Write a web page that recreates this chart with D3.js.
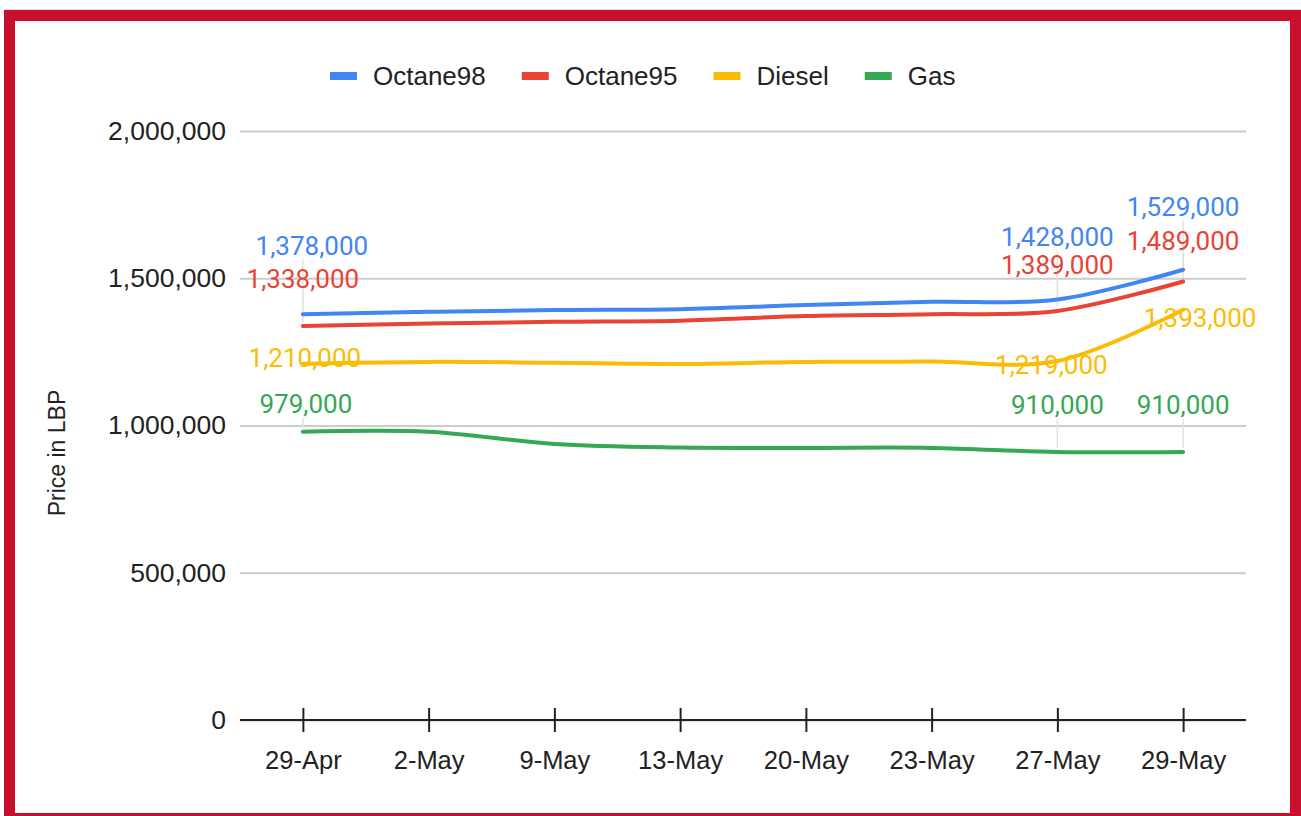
<!DOCTYPE html>
<html>
<head>
<meta charset="utf-8">
<script src="https://cdn.jsdelivr.net/npm/d3@7"></script>
<style>
  body { margin: 0; background: #fff; }
  svg { display: block; }
</style>
</head>
<body>
<div id="container"></div>
<script>
/* DATA */
const dates = ["29-Apr", "2-May", "9-May", "13-May", "20-May", "23-May", "27-May", "29-May"];
const seriesNames = ["Octane98", "Octane95", "Diesel", "Gas"];
const octane98 = [1378000, 1386000, 1392000, 1395000, 1409000, 1420000, 1428000, 1529000];
const octane95 = [1338000, 1346000, 1352000, 1356000, 1372000, 1378000, 1389000, 1489000];
const diesel = [1210000, 1216000, 1213000, 1209000, 1216000, 1217000, 1219000, 1393000];
const gas = [979000, 979000, 937000, 925000, 924000, 924000, 910000, 910000];
const yTicks = [0, 500000, 1000000, 1500000, 2000000];
const labelledPoints = [0, 6, 7];

/* CONSTANTS */
const width = 1301, height = 816;
const colors = ["#4285f4", "#ea4335", "#fbbc04", "#34a853"];
const frameRed = "#c8102e";

// label nudges [dx, dy] per series, per labelled point (chart tool avoided overlaps)
const labelNudge = [
  [[9, -69], [0, -63], [0, -63]],
  [[0, -47], [0, -46], [0, -41]],
  [[2, -6], [-6, 4], [17, 8]],
  [[3, -28], [0, -47], [0, -47]]
];

const series = [octane98, octane95, diesel, gas].map((vals, i) => ({
  name: seriesNames[i],
  color: colors[i],
  values: vals.map((v, j) => ({ date: dates[j], value: v }))
}));

const svg = d3.select("#container")
  .append("svg")
  .attr("width", width)
  .attr("height", height);

// frame
svg.append("rect").attr("width", width).attr("height", height).attr("fill", "#fff");
svg.append("line")
  .attr("x1", 4).attr("x2", width).attr("y1", 9.5).attr("y2", 9.5)
  .attr("stroke", "#ddd");
svg.append("rect")
  .attr("x", 4).attr("y", 10).attr("width", width - 4).attr("height", height - 10)
  .attr("fill", frameRed);
svg.append("rect")
  .attr("x", 15).attr("y", 21).attr("width", 1275).attr("height", 792)
  .attr("fill", "#fff");

// SCALES
const x = d3.scalePoint()
  .domain(dates)
  .range([240, 1246])
  .padding(0.5);

const y = d3.scaleLinear()
  .domain([0, 2000000])
  .range([720, 131]);

// gridlines + y labels
const yAxis = svg.append("g")
  .attr("transform", "translate(240,0)")
  .call(d3.axisLeft(y).tickValues(yTicks).tickSize(-1006).tickPadding(14).tickFormat(d3.format(",")));
yAxis.select(".domain").remove();
yAxis.selectAll(".tick line").attr("stroke", "#cccccc").attr("stroke-width", 2);
yAxis.selectAll(".tick text")
  .attr("font-family", "'Liberation Sans', Arial, sans-serif")
  .attr("font-size", 26.5)
  .attr("fill", "#222");

// x axis
const xAxis = svg.append("g")
  .attr("transform", "translate(0,720)")
  .call(d3.axisBottom(x).tickSizeOuter(0).tickSize(12).tickPadding(19));
xAxis.select(".domain").attr("stroke", "#222").attr("stroke-width", 2).attr("d", "M240,0H1246");
xAxis.selectAll(".tick line").attr("stroke", "#222").attr("stroke-width", 2).attr("y1", -12);
xAxis.selectAll(".tick text")
  .attr("font-family", "'Liberation Sans', Arial, sans-serif")
  .attr("font-size", 25.5)
  .attr("fill", "#222");

// y axis title
svg.append("text")
  .attr("transform", "translate(65,453) rotate(-90)")
  .attr("text-anchor", "middle")
  .attr("font-family", "'Liberation Sans', Arial, sans-serif")
  .attr("font-size", 23)
  .attr("fill", "#222")
  .text("Price in LBP");

// LINES
const lineGen = d3.line()
  .x(d => x(d.date))
  .y(d => y(d.value))
  .curve(d3.curveCatmullRom.alpha(0.5));

// leader lines for the data labels
const labelData = [];
series.forEach((s, si) => {
  labelledPoints.forEach((pi, k) => {
    const d = s.values[pi];
    labelData.push({
      color: s.color,
      value: d.value,
      px: x(d.date),
      py: y(d.value),
      lx: x(d.date) + labelNudge[si][k][0],
      ly: y(d.value) + labelNudge[si][k][1]
    });
  });
});

svg.selectAll("line.leader")
  .data(labelData.filter(d => d.ly < d.py - 20))
  .join("line")
  .attr("class", "leader")
  .attr("x1", d => d.px).attr("x2", d => d.px)
  .attr("y1", d => d.ly + 14).attr("y2", d => d.py - 4)
  .attr("stroke", "#e2e2e2")
  .attr("stroke-width", 1.5);

svg.selectAll("path.series")
  .data(series)
  .join("path")
  .attr("class", "series")
  .attr("d", d => lineGen(d.values))
  .attr("fill", "none")
  .attr("stroke", d => d.color)
  .attr("stroke-width", 4)
  .attr("stroke-linecap", "round");

// data labels
svg.selectAll("text.dlabel")
  .data(labelData)
  .join("text")
  .attr("class", "dlabel")
  .attr("x", d => d.lx)
  .attr("y", d => d.ly)
  .attr("dy", "0.36em")
  .attr("text-anchor", "middle")
  .attr("font-family", "Roboto, sans-serif")
  .attr("font-size", 26)
  .attr("fill", d => d.color)
  .text(d => d3.format(",")(d.value));

// LEGEND
const legend = svg.append("g").attr("transform", "translate(330,0)");
let lx = 0;
series.forEach(s => {
  const g = legend.append("g").attr("transform", `translate(${lx},0)`);
  g.append("rect")
    .attr("x", 0).attr("y", 72).attr("width", 27).attr("height", 8)
    .attr("fill", s.color);
  const t = g.append("text")
    .attr("x", 43).attr("y", 85)
    .attr("font-family", "'Liberation Sans', Arial, sans-serif")
    .attr("font-size", 26)
    .attr("fill", "#222")
    .text(s.name);
  lx += 43 + t.node().getComputedTextLength() + 36;
});
</script>
</body>
</html>
